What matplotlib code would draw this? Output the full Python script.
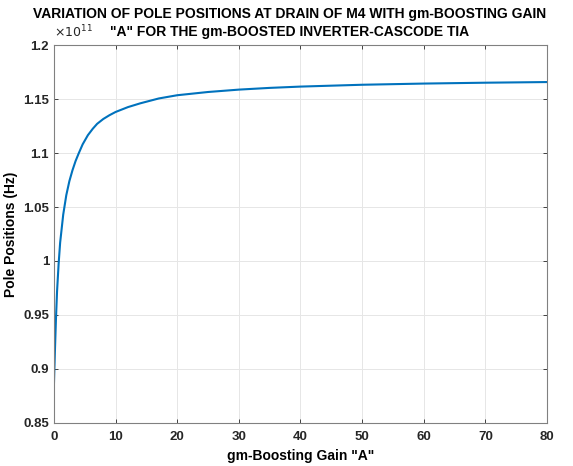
import matplotlib.pyplot as plt
import numpy as np

plt.rcParams['font.family'] = ['Liberation Sans', 'DejaVu Sans']

# gm-boosting gain A and pole position (x1e11 Hz)
gain = np.array([0, 0.05, 0.1, 0.15, 0.2, 0.32, 0.5, 0.75, 1.0, 1.5, 2.0, 2.5, 3.0,
                 3.5, 4.0, 4.65, 5.5, 6.3, 7.0, 8.0, 9.0, 10, 12, 14, 17, 20, 25,
                 30, 35, 40, 50, 60, 70, 80])
pole = np.array([0.887, 0.897, 0.906, 0.916, 0.925, 0.946, 0.972, 0.997, 1.017,
                 1.043, 1.061, 1.074, 1.084, 1.0925, 1.0995, 1.108, 1.1165, 1.1225,
                 1.127, 1.1315, 1.135, 1.138, 1.1425, 1.146, 1.1505, 1.1535, 1.1565,
                 1.1587, 1.1603, 1.1615, 1.1632, 1.1643, 1.1651, 1.1657])

xticks = [0, 10, 20, 30, 40, 50, 60, 70, 80]
yticks = [0.85, 0.9, 0.95, 1.0, 1.05, 1.1, 1.15, 1.2]
ylabels = ['0.85', '0.9', '0.95', '1', '1.05', '1.1', '1.15', '1.2']

fig = plt.figure(figsize=(5.73, 4.66), dpi=100)
ax = fig.add_axes([0.0942, 0.0923, 0.8604, 0.8111])

ax.plot(gain, pole, color='#0072BD', linewidth=1.5)

ax.set_xlim(0, 80)
ax.set_ylim(0.85, 1.2)
ax.set_xticks(xticks)
ax.set_yticks(yticks)
ax.set_yticklabels(ylabels)
ax.tick_params(direction='in', length=3, width=0.6, colors='#262626',
               labelsize=9.5, top=True, right=True)
ax.tick_params(axis='x', pad=6)
for lab in ax.get_xticklabels() + ax.get_yticklabels():
    lab.set_fontweight('bold')
for sp in ax.spines.values():
    sp.set_color('#808080')
    sp.set_linewidth(0.8)
ax.grid(True, color='#e6e6e6', linewidth=0.7)
ax.set_axisbelow(True)

ax.set_xlabel('gm-Boosting Gain "A"', fontsize=10, fontweight='bold', labelpad=4)
ax.set_ylabel('Pole Positions (Hz)', fontsize=10, fontweight='bold', labelpad=4)
ax.text(0.0, 1.012, r'$\times10^{11}$', transform=ax.transAxes, fontsize=9,
        ha='left', va='bottom', color='#262626')

fig.text(0.505, 0.951, 'VARIATION OF POLE POSITIONS AT DRAIN OF M4 WITH gm-BOOSTING GAIN\n'
         '"A" FOR THE gm-BOOSTED INVERTER-CASCODE TIA',
         ha='center', va='center', fontsize=10, fontweight='bold', linespacing=1.35)

fig.savefig('out.png', dpi=100)
